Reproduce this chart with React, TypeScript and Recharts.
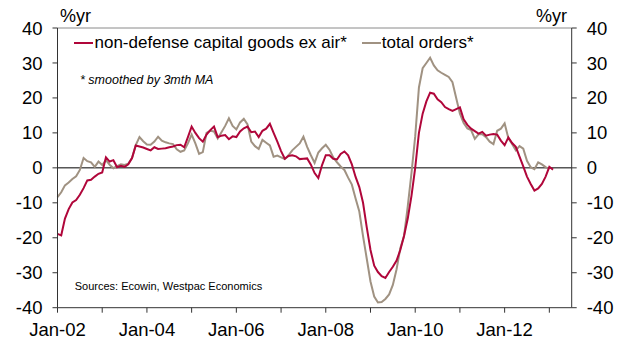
import { Line, LineChart, ReferenceLine, XAxis, YAxis } from 'recharts';

// monthly, Jan-02 .. Feb-13, % yr (3mth MA)
const capGoods = [
    -18.9, -19.3, -14.5, -11.8, -9.9, -9.2, -7.7, -5.8, -3.6, -3.4,
    -2.5, -1.7, -1.3, 3.0, 1.8, 2.2, 0.2, 0.6, 0.3, 1.0,
    2.8, 6.4, 6.1, 5.8, 5.4, 5.0, 5.9, 5.4, 5.5, 5.6,
    5.9, 6.1, 6.5, 6.6, 5.9, 8.8, 11.8, 10.0, 8.5, 7.5,
    9.5, 10.8, 11.8, 8.8, 9.2, 9.4, 8.2, 9.0, 8.8, 10.4,
    11.3, 11.8, 10.2, 10.4, 8.8, 10.6, 11.2, 12.6, 10.0, 7.5,
    4.8, 2.6, 3.4, 3.6, 3.3, 2.5, 2.6, 2.7, 0.9, -1.5,
    -2.9, 0.8, 3.6, 3.6, 2.6, 2.4, 4.0, 4.7, 3.6, 1.0,
    -2.6, -5.5, -10, -17, -23.5, -28, -29.8, -31, -31.5, -29.8,
    -28.3, -26.5, -23.5, -19.5, -14.5, -8, 0, 10, 15.5, 19,
    21.5, 21.2, 19.6, 18.8, 17.4, 16.8, 16.3, 16.8, 17.3, 13.9,
    12.3, 11.2, 10.5, 9.8, 10.3, 9.2, 9.5, 9.7, 9.5, 7.8,
    6.5, 8.7, 7.1, 6.0, 3.2, 0.4, -2.5, -4.6, -6.5, -5.9,
    -4.6, -2.5, 0.3, -0.5,
];

const totalOrders = [
    -8.4, -7.0, -5.0, -4.2, -3.2, -2.4, -0.6, 2.8, 1.9, 1.6,
    0.3, 1.8, 0.8, 2.2, 0.9, -0.1, 0.5, 1.0, 0.8, 1.2,
    2.8, 6.5, 8.8, 7.6, 6.7, 6.6, 7.5, 8.9, 7.8, 7.3,
    7.0, 6.8, 5.3, 4.6, 5.0, 7.0, 9.5, 7.0, 4.0, 4.5,
    10.0, 10.6, 10.4, 8.4, 10.2, 12.0, 14.2, 12.0, 11.0, 13.0,
    14.0, 12.4, 7.5, 6.2, 5.4, 8.0, 7.2, 6.4, 3.2, 3.5,
    3.0, 2.5, 3.6, 5.0, 6.0, 7.0, 8.9, 6.0, 3.6, 1.4,
    4.4, 5.6, 6.6, 5.2, 3.0, 1.6, 0.4, -0.6, -2.8, -4.8,
    -8.8, -12.5, -19.5, -26, -32.5, -36.8, -38.5, -38.4, -37.5, -36.2,
    -33.5, -29, -23, -19.5, -11, -1.5, 9, 23, 28.5, 30,
    31.5, 29.3, 27.9, 27.2, 26.6, 26.0, 24.5, 20.0, 15.5, 12.8,
    11.3, 10.8, 8.3, 9.6, 9.6, 8.8, 7.5, 6.8, 10.6, 11.2,
    12.7, 8.5, 6.8, 5.0, 6.2, 5.5, 2.0, 0.2, -0.4, 1.6,
    1.0, 0.2, -0.4,
];

// one tick per January, labels every second year
const xTickLabels = ['Jan-02', '', 'Jan-04', '', 'Jan-06', '', 'Jan-08', '', 'Jan-10', '', 'Jan-12', ''];
const yTicks = [-40, -30, -20, -10, 0, 10, 20, 30, 40];

const RED = '#B0063A';
const GREY = '#A09282';
const FONT = '"Liberation Sans", Arial, sans-serif';

const data = capGoods.map((v, i) => ({ m: i, cap: v, tot: totalOrders[i] }));
const xTicks = xTickLabels.map((_, i) => i * 12);

const tickStyle = { fontSize: 18.5, fontFamily: FONT, fill: '#000' };

const ChartLegend = () => (
    <div
        style={{
            position: 'absolute', left: 74, top: 34, display: 'flex', alignItems: 'center',
            fontFamily: FONT, fontSize: 17, color: '#000', whiteSpace: 'nowrap', lineHeight: '17px',
        }}
    >
        <span style={{ width: 19, height: 2, background: RED, marginRight: 1.5 }} />
        <span>non-defense capital goods ex air*</span>
        <span style={{ width: 19, height: 2, background: GREY, marginLeft: 15, marginRight: 1 }} />
        <span>total orders*</span>
    </div>
);

export default function App() {
    return (
        <div style={{ position: 'absolute', left: 0, top: 0, width: 627, height: 342, background: '#fff' }}>
            <LineChart width={627} height={342} data={data} margin={{ top: 28, right: 5.3, bottom: 4.3, left: 7.5 }}>
                <XAxis
                    dataKey='m'
                    type='number'
                    domain={[0, 138]}
                    ticks={xTicks}
                    interval={0}
                    tickFormatter={(v: number) => xTickLabels[v / 12] ?? ''}
                    tick={tickStyle}
                    tickSize={5}
                    tickMargin={10}
                    height={30}
                    stroke='#333'
                />
                <YAxis
                    yAxisId='l'
                    domain={[-40, 40]}
                    ticks={yTicks}
                    interval={0}
                    tick={tickStyle}
                    tickSize={5}
                    tickMargin={10}
                    width={50}
                    stroke='#333'
                />
                <YAxis
                    yAxisId='r'
                    orientation='right'
                    domain={[-40, 40]}
                    ticks={yTicks}
                    interval={0}
                    tick={{ ...tickStyle, textAnchor: 'start' }}
                    tickSize={5}
                    tickMargin={10}
                    width={50}
                    stroke='#333'
                />
                <ReferenceLine yAxisId='l' y={40} stroke='#8a8a8a' />
                <ReferenceLine yAxisId='l' y={0} stroke='#000' />
                <Line yAxisId='r' type='linear' dataKey='tot' stroke={GREY} strokeWidth={2} dot={false} isAnimationActive={false} />
                <Line yAxisId='l' type='linear' dataKey='cap' stroke={RED} strokeWidth={2} dot={false} isAnimationActive={false} />
            </LineChart>
            <ChartLegend />
            <div style={{ position: 'absolute', left: 60, top: 6.5, fontFamily: FONT, fontSize: 18, lineHeight: '18px' }}>%yr</div>
            <div style={{ position: 'absolute', right: 60, top: 6.5, fontFamily: FONT, fontSize: 18, lineHeight: '18px' }}>%yr</div>
            <div style={{ position: 'absolute', left: 80, top: 73.5, fontFamily: FONT, fontSize: 12.5, fontStyle: 'italic', lineHeight: '12.5px' }}>
                * smoothed by 3mth MA
            </div>
            <div style={{ position: 'absolute', left: 74.7, top: 281.4, fontFamily: FONT, fontSize: 11, lineHeight: '11px' }}>
                Sources: Ecowin, Westpac Economics
            </div>
        </div>
    );
}
